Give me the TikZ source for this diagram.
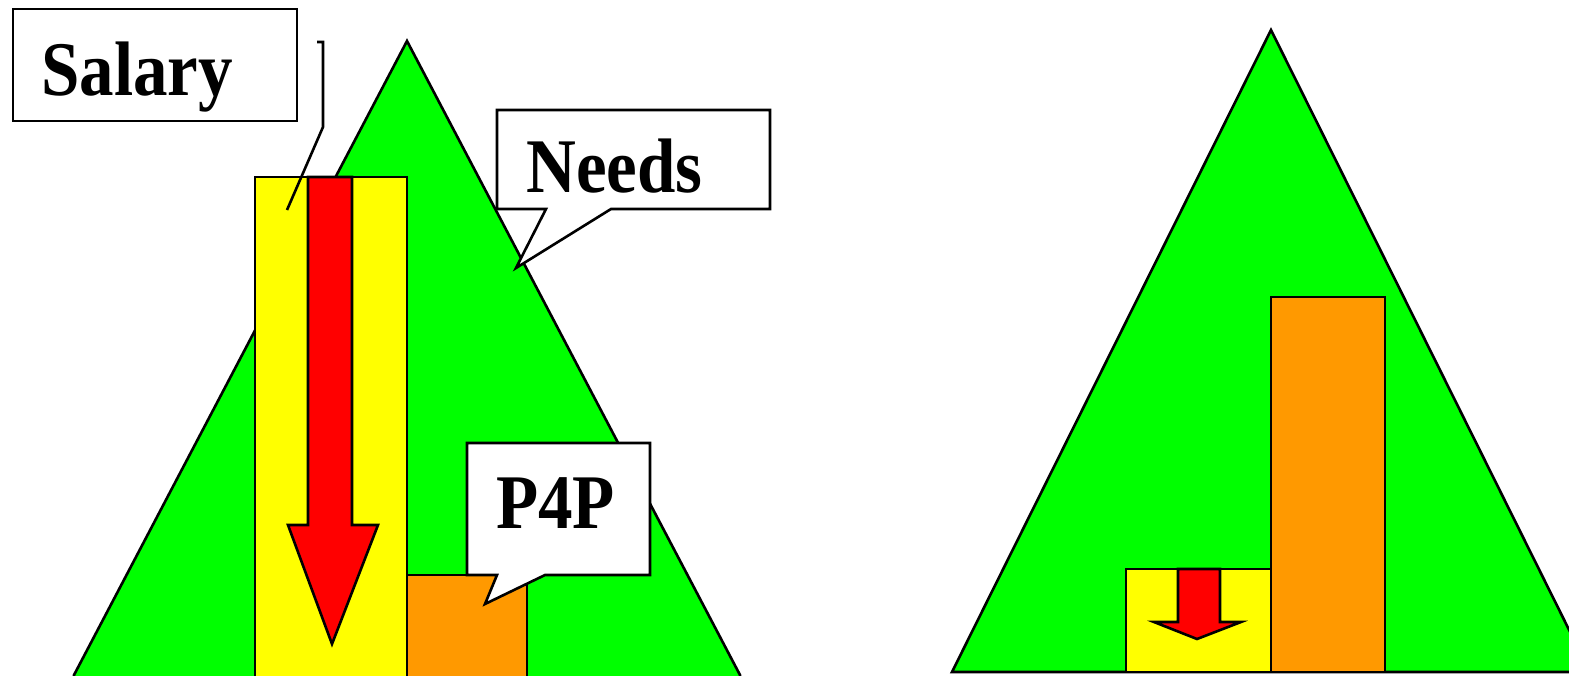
\documentclass[tikz,border=0pt]{standalone}
\usepackage{fontspec}
\setmainfont{Liberation Serif}
\definecolor{tgreen}{HTML}{00FF00}
\definecolor{tyellow}{HTML}{FFFF00}
\definecolor{tred}{HTML}{FF0000}
\definecolor{torange}{HTML}{FF9900}
\tikzset{
  outl/.style={draw=black, line width=2.6pt, line join=miter},
  callout/.style={outl, fill=white},
  lbl/.style={anchor=base west, inner sep=0pt, font=\fontsize{69}{69}\selectfont\bfseries},
}
\newcommand{\tall}[1]{\scalebox{1}[1.12]{#1}}
\begin{document}
\begin{tikzpicture}[x=1pt,y=-1pt]
\useasboundingbox (0,0) rectangle (1569,675);
\clip (0,0) rectangle (1569,675);
\fill[white] (0,0) rectangle (1569,675);
% ---- left picture ----
\draw[outl, fill=tgreen] (407,41) -- (740,675) -- (740,700) -- (74,700) -- (74,675) -- cycle;
\draw[outl, fill=tyellow] (255,700) -- (255,177) -- (407,177) -- (407,700);
\draw[outl, fill=tred] (308,177) -- (352,177) -- (352,525) -- (378,525) -- (332,644) -- (288,525) -- (308,525) -- cycle;
\draw[outl, fill=torange] (407,700) -- (407,575) -- (527,575) -- (527,700);
% Salary callout
\draw[callout] (13,9) rectangle (297,121);
\node[lbl] (salary) at (41,95) {\tall{Salary}};
\coordinate (salaryTip) at (287,210);
\draw[outl, line cap=butt] (317,42) -- (323,42) -- (323,127) -- (salaryTip);
% Needs callout
\draw[callout] (497,110) -- (770,110) -- (770,209) -- (611,209) -- (516,268) -- (546,209) -- (497,209) -- cycle;
\node[lbl] (needs) at (526,192) {\tall{Needs}};
% P4P callout
\draw[callout] (467,443) -- (650,443) -- (650,575) -- (545,575) -- (485,604) -- (497,575) -- (467,575) -- cycle;
\node[lbl] (p4p) at (496,528) {\tall{P4P}};
% ---- right picture ----
\draw[outl, fill=tgreen] (1271,30) -- (1590,672) -- (952,672) -- cycle;
\draw[outl, fill=tyellow] (1126,569) rectangle (1271,672);
\draw[outl, fill=torange] (1271,297) rectangle (1385,672);
\draw[outl, fill=tred] (1178,569) -- (1220,569) -- (1220,622) -- (1241,622) -- (1197,639) -- (1154,622) -- (1178,622) -- cycle;
\end{tikzpicture}
\end{document}
